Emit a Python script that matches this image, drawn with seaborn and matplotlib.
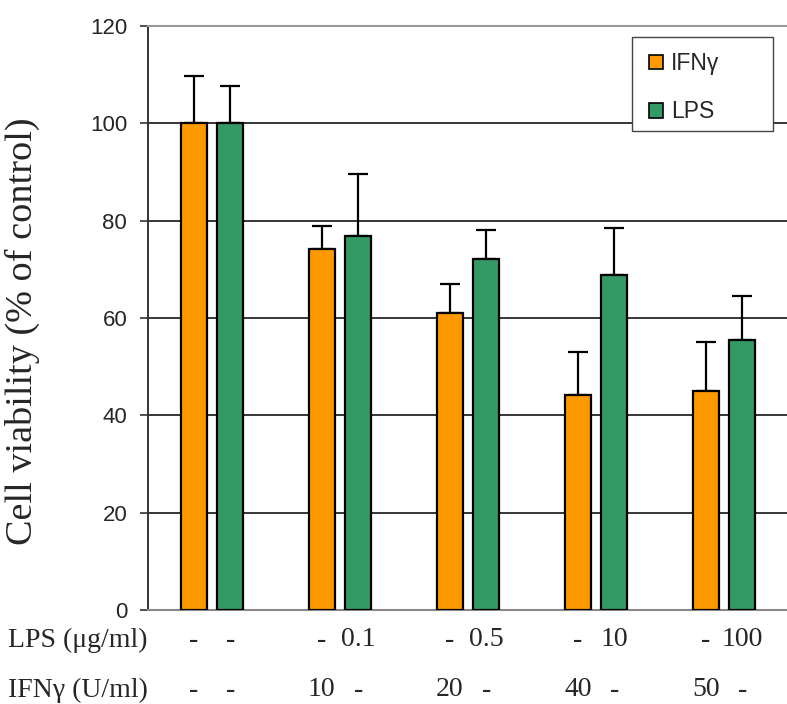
import numpy as np
import pandas as pd
import matplotlib
matplotlib.use("Agg")
import matplotlib.pyplot as plt
import matplotlib.transforms as mtransforms
import seaborn as sns

# Treatment groups and measured viability (% of control)
groups = ["Control", "T1", "T2", "T3", "T4"]
series = ["IFNγ", "LPS"]
ifn_values = [100, 74.1, 61.0, 44.2, 45.0]
ifn_errors = [9.7, 4.8, 5.9, 8.8, 10.0]
lps_values = [100, 76.8, 72.1, 68.9, 55.4]
lps_errors = [7.7, 12.8, 5.9, 9.5, 9.1]

# Dose rows written under each pair of bars (IFNγ bar, LPS bar)
lps_row = [("-", "-"), ("-", "0.1"), ("-", "0.5"), ("-", "10"), ("-", "100")]
ifn_row = [("-", "-"), ("10", "-"), ("20", "-"), ("40", "-"), ("50", "-")]
yticks = [0, 20, 40, 60, 80, 100, 120]

colors = {"IFNγ": "#FF9900", "LPS": "#339966"}

df = pd.DataFrame({
    "group": groups * 2,
    "series": [series[0]] * len(groups) + [series[1]] * len(groups),
    "value": ifn_values + lps_values,
})

sns.set_style("white")
plt.rcParams["font.family"] = ["Liberation Sans", "DejaVu Sans"]

W, H = 787, 704
fig = plt.figure(figsize=(W / 100, H / 100), dpi=100)
ax = fig.add_axes([148 / W, 94 / H, 640 / W, 584 / H])

sns.barplot(data=df, x="group", y="value", hue="series", order=groups,
            hue_order=series, palette=colors, errorbar=None,
            width=0.57, gap=0.3, edgecolor="black", linewidth=1.6,
            saturation=1, ax=ax, zorder=3, legend=False)

# Upper-only error bars placed on each drawn bar
errs = {"IFNγ": ifn_errors, "LPS": lps_errors}
bar_centers = {}
for cont, name in zip(ax.containers, series):
    xs = [p.get_x() + p.get_width() / 2 for p in cont.patches]
    hs = [p.get_height() for p in cont.patches]
    bar_centers[name] = xs
    e = np.array(errs[name])
    ax.errorbar(xs, hs, yerr=[np.zeros_like(e), e], fmt="none",
                ecolor="black", elinewidth=1.6, capsize=7, capthick=1.6,
                zorder=2)

ax.set_xlim(-0.5, len(groups) - 0.5)
ax.set_ylim(0, 120)
ax.set_yticks(yticks)
ax.set_yticklabels([str(t) for t in yticks], fontsize=16)
ax.set_xticks([])
ax.set_xlabel("")
ax.set_ylabel("Cell viability (% of control)", family=["Liberation Serif"],
              fontsize=27.5)
ax.yaxis.set_label_coords(-0.168, 0.478)

# Horizontal reference lines
for t in yticks[1:-1]:
    ax.axhline(t, color="black", linewidth=1.1, zorder=1)

ax.spines["right"].set_visible(False)
ax.spines["top"].set_color("#999999")
ax.spines["top"].set_linewidth(1.5)
ax.spines["bottom"].set_color("#888888")
ax.spines["bottom"].set_linewidth(1.5)
ax.spines["left"].set_color("#333333")
ax.spines["left"].set_linewidth(1.4)
ax.tick_params(axis="y", direction="out", length=6, width=1.2,
               color="#333333", left=True, pad=9)

# Legend: white framed box with the two swatches inside
box = plt.Rectangle((632 / W, 1 - 131 / H), 141 / W, 94 / H,
                    transform=fig.transFigure, facecolor="white",
                    edgecolor="#444444", linewidth=1.0, zorder=6,
                    clip_on=False)
ax.add_patch(box)
handles = [plt.Rectangle((0, 0), 1, 1, facecolor=colors[s], edgecolor="black",
                         linewidth=1.2) for s in series]
leg = ax.legend(handles, series, loc="upper left",
                bbox_to_anchor=(649 / W, 1 - 52 / H),
                bbox_transform=fig.transFigure, fontsize=16.5, frameon=False,
                handlelength=0.62, handleheight=0.62, handletextpad=0.35,
                borderpad=0, labelspacing=1.1, borderaxespad=0)
leg.set_zorder(7)

# Dose rows below the axis
trans = mtransforms.blended_transform_factory(ax.transData, fig.transFigure)
serif = ["Liberation Serif", "DejaVu Serif"]
fig.text(8 / W, 1 - 640 / H, "LPS (μg/ml)", family=serif, fontsize=20,
         va="center", ha="left")
fig.text(8 / W, 1 - 690 / H, "IFNγ (U/ml)", family=serif, fontsize=20,
         va="center", ha="left")
for i in range(len(groups)):
    xo = bar_centers["IFNγ"][i]
    xg = bar_centers["LPS"][i]
    for x, s in zip((xo, xg), lps_row[i]):
        ax.text(x, 1 - 640 / H, s, transform=trans, family=serif,
                fontsize=20, ha="center", va="center")
    for x, s in zip((xo, xg), ifn_row[i]):
        ax.text(x, 1 - 690 / H, s, transform=trans, family=serif,
                fontsize=20, ha="center", va="center")

fig.savefig("out.png", dpi=100)
